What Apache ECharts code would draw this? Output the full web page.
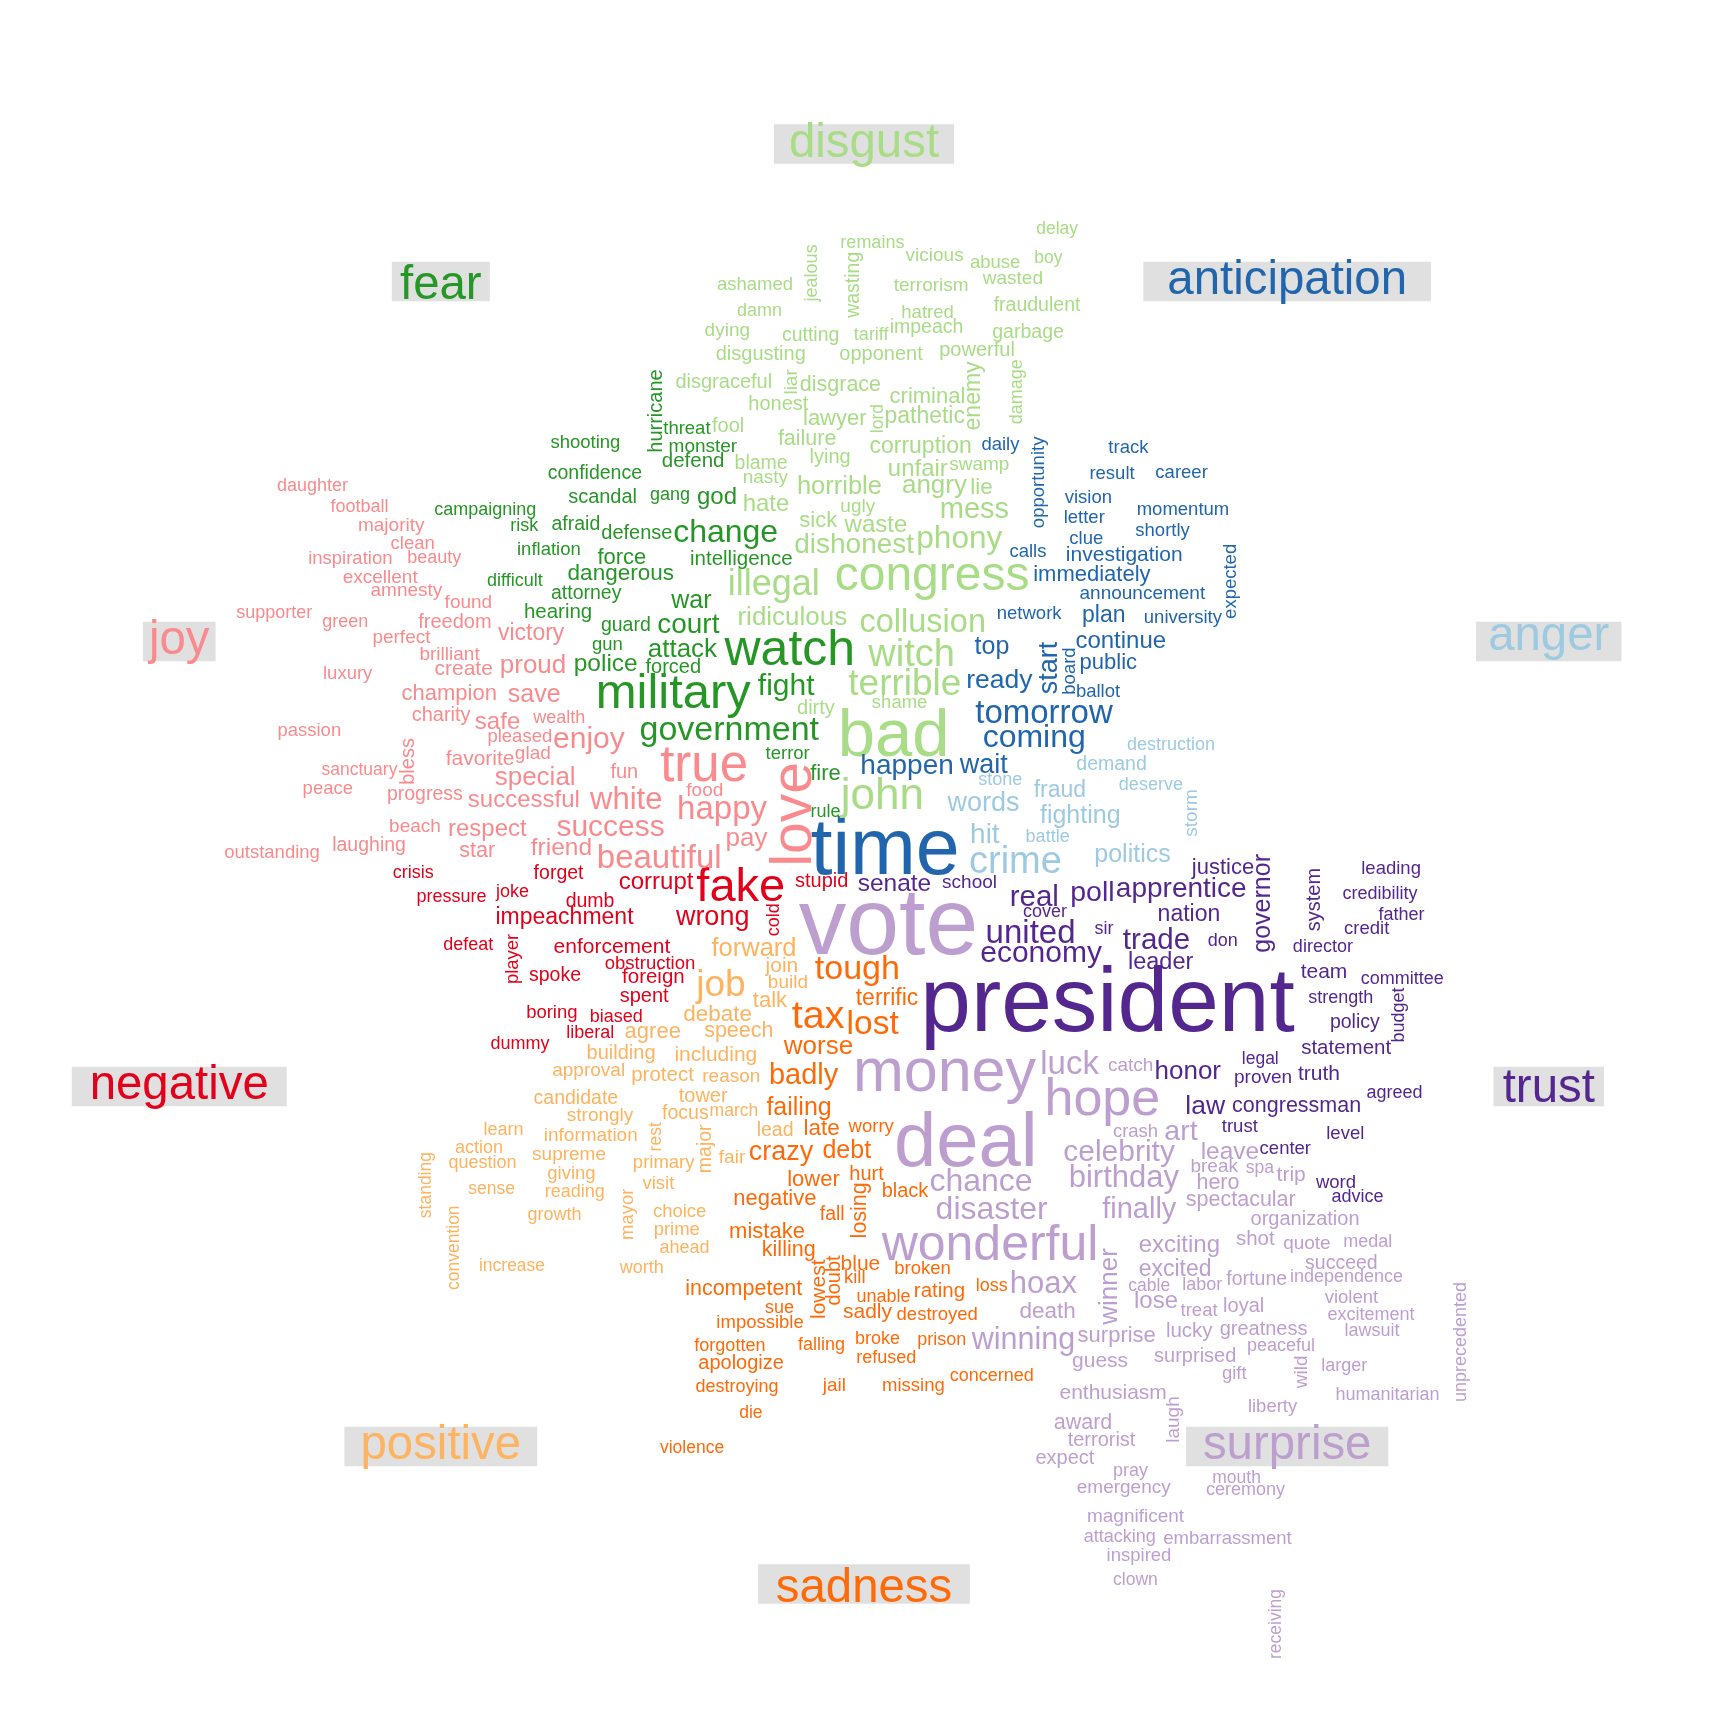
<!DOCTYPE html>
<html>
<head>
<meta charset="utf-8">
<script src="https://cdn.jsdelivr.net/npm/echarts@6/dist/echarts.min.js"></script>
<style>html,body{margin:0;padding:0;background:#fff}#chart{width:1728px;height:1728px}</style>
</head>
<body>
<div id="chart"></div>
<script>
// ---------------- data ----------------
const groupNames = ['anger','anticipation','disgust','fear','joy','negative','positive','sadness','surprise','trust'];

const angerWords = ['crime','hit','words','fighting','politics','fraud','demand','storm','destruction','deserve','battle','stone'];
const angerValues = [38,28,27,25,25,23,19.5,19,18,18,18,18];

const anticipationWords = ['time','tomorrow','coming','happen','start','wait','ready','top','continue','plan','public','immediately','investigation','announcement','letter','network','vision','momentum','shortly','opportunity','expected','daily','university','ballot','career','clue','board','track','result','calls'];
const anticipationValues = [79,33,32,28,27,27,26.5,25,24,23,22,22,21,19,18.5,18.5,18.5,18.5,18.5,18.5,18.5,18.5,18.5,18.5,18.5,18.5,18.5,18.5,18.5,18.5];

const disgustWords = ['bad','congress','john','witch','terrible','illegal','collusion','phony','mess','dishonest','ridiculous','angry','horrible','unfair','hate','waste','enemy','pathetic','corruption','lie','sick','criminal','lawyer','failure','disgrace','opponent','dirty','powerful','disgraceful','honest','disgusting','lying','fool','blame','impeach','fraudulent','garbage','cutting','wasting','wasted','swamp','dying','ugly','liar','vicious','terrorism','nasty','shame','abuse','ashamed','hatred','remains','jealous','damn','tariff','damage','delay','boy','lord'];
const disgustValues = [67,48,44,38,37,36,32.5,31.5,29,28,26,26,25.5,24,24,24,23,23,23,22.5,22,22,22,21.5,21.5,20,20,20,20,20,20,20,20,19.5,19.5,19.5,19.5,19.5,19.5,19,19,19,19,19,19,19,19,18.5,18.5,18.5,18.5,18,18,18,18,18,17.5,17.5,17.5];

const fearWords = ['watch','military','government','change','fight','court','attack','war','police','god','dangerous','fire','force','hearing','defend','intelligence','forced','defense','scandal','hurricane','confidence','afraid','guard','attorney','monster','terror','shooting','threat','inflation','gun','risk','difficult','gang','rule','campaigning'];
const fearValues = [50,49,34,32,30,28,26,25,24.5,24,22.5,22,22,20.5,20.5,20.5,20,20,20,20,19.5,19.5,19.5,19.5,19,18.5,18.5,18.5,18.5,18.5,18,18,18,18,18];

const joyWords = ['love','true','happy','beautiful','white','success','enjoy','special','proud','pay','save','friend','respect','successful','safe','victory','champion','star','favorite','create','freedom','charity','fun','bless','progress','laughing','glad','found','beach','food','brilliant','perfect','excellent','amnesty','majority','luxury','inspiration','passion','peace','outstanding','clean','pleased','green','football','daughter','supporter','beauty','wealth','sanctuary'];
const joyValues = [57,51,33,33,31,30,30,26,26,26,25,24.5,24,24,24,23,22,21.5,21,21,20,20,20,20,19.5,19.5,19,19,19,19,19,19,19,19,19,18.5,18.5,18.5,18.5,18.5,18.5,18.5,18,18,18,18,18,18,17.5];

const negativeWords = ['fake','wrong','corrupt','impeachment','enforcement','foreign','stupid','spent','forget','dumb','spoke','boring','obstruction','player','liberal','biased','pressure','dummy','joke','defeat','crisis','cold'];
const negativeValues = [47,27,24,23,21,20.5,20,20,19.5,19.5,19.5,18.5,18.5,18.5,18,18,18,18,18,18,18,18];

const positiveWords = ['job','forward','debate','agree','talk','speech','including','join','protect','building','tower','focus','lead','major','candidate','reason','build','approval','fair','strongly','supreme','information','mayor','choice','primary','prime','visit','giving','action','learn','ahead','growth','reading','question','worth','sense','standing','march','convention','increase','rest'];
const positiveValues = [37,25.5,22.5,22,22,21.5,21,21,20.5,20,20,19.5,19.5,19.5,19.5,19,19,19,19,19,19,19,18.5,18.5,18.5,18.5,18.5,18.5,18,18,18,18,18,18,18,17.5,17.5,17.5,17.5,17.5,17.5];

const sadnessWords = ['tax','tough','lost','badly','crazy','worse','debt','failing','terrific','late','mistake','negative','lower','losing','killing','incompetent','lowest','blue','rating','sadly','doubt','hurt','apologize','black','fall','broken','jail','destroyed','worry','impossible','missing','kill','loss','falling','sue','forgotten','broke','concerned','refused','destroying','unable','prison','die','violence'];
const sadnessValues = [39.5,34,33.5,29,27,26,25,25,23,22.5,22,22,22,21.5,21.5,21.5,21,21,20.5,21,20,20,20,20,19.5,18.5,19,18.5,18.5,18.5,18.5,18.5,18,18,18,18,18,18,18,18,18,18,17.5,17.5];

const surpriseWords = ['vote','deal','money','hope','wonderful','luck','disaster','chance','birthday','hoax','winning','celebrity','finally','art','winner','leave','lose','exciting','excited','death','surprise','spectacular','hero','award','enthusiasm','guess','trip','lucky','shot','terrorist','surprised','organization','greatness','loyal','expect','fortune','succeed','quote','magnificent','emergency','catch','break','wild','laugh','gift','liberty','violent','crash','inspired','treat','embarrassment','labor','pray','peaceful','lawsuit','ceremony','medal','excitement','attacking','larger','humanitarian','independence','unprecedented','cable','mouth','clown','spa','receiving'];
const surpriseValues = [95,76,61,52,50,33,32,32,31,31,30.5,30,29,28.5,26,24.5,24,24,23,22.5,22,21.5,21.5,21.5,21,21,21,20.5,20.5,20,20,20,20,20,20,19.5,19.5,19,19,19,19,19,19,19,18.5,18.5,18.5,18.5,18.5,18.5,18.5,18,18,18,18,18,18,18,18,18,18,18,18,17.5,17.5,17.5,17.5,17.5];

const trustWords = ['president','united','economy','real','trade','poll','apprentice','law','honor','governor','senate','leader','nation','justice','congressman','truth','team','statement','system','policy','proven','school','credit','level','leading','word','trust','center','agreed','committee','advice','sir','father','cover','budget','don','strength','director','credibility','legal'];
const trustValues = [91,33,30,29.5,29.5,28.5,28,26.5,26,25,24.5,23.5,23,22,21.5,21,21,20.5,20,19.5,19,19,18.5,18.5,18.5,18.5,18.5,18.5,18,18,18,18,18,18,18,18,18,18,18,17.5];

const rotatedWords = ['love','enemy','hurricane','liar','wasting','jealous','lord','damage','opportunity','expected','board','start','storm','bless','cold','lowest','rest','major','mayor','convention','standing','losing','doubt','governor','system','budget','winner','wild','unprecedented','laugh','receiving','player'];

// ---------------- styles ----------------
const groupColors = ['#9ecae1','#2166ac','#a9dc86','#269626','#f98b8e','#e2001a','#fdb35f','#ff6a08','#bd9fcf','#54278f'];
const titleBg = '#e0e0e0';
const FONT = '"Liberation Sans", Arial, Helvetica, sans-serif';
const TITLE_SIZE = 47.4;
const MAX_FONT = 95;
const PLOT = 1600; // px per data unit

const groupWords = [angerWords,anticipationWords,disgustWords,fearWords,joyWords,negativeWords,positiveWords,sadnessWords,surpriseWords,trustWords];
const groupValues = [angerValues,anticipationValues,disgustValues,fearValues,joyValues,negativeValues,positiveValues,sadnessValues,surpriseValues,trustValues];

// ---------------- measuring ----------------
const cv = document.createElement('canvas');
const ctx = cv.getContext('2d');
function measure(word, size) {
  ctx.font = size + 'px ' + FONT;
  ctx.textBaseline = 'alphabetic';
  const w = ctx.measureText(word).width;
  const mh = ctx.measureText('M').actualBoundingBoxAscent;
  ctx.textBaseline = 'middle';
  const m = ctx.measureText(word);
  const dy = (m.actualBoundingBoxAscent - m.actualBoundingBoxDescent) / 2;
  return { w: w, h: mh, dy: dy };
}

// ---------------- comparison-cloud layout ----------------
const nG = groupNames.length;
const thetaBins = [];
for (let i = 0; i <= nG; i++) thetaBins.push(i * 2 * Math.PI / nG);
const boxes = [];
const titles = [];
for (let i = 0; i < nG; i++) {
  const th = (thetaBins[i] + thetaBins[i + 1]) / 2;
  const m = measure(groupNames[i], TITLE_SIZE);
  const wid = m.w * 1.2 / PLOT, ht = m.h * 1.2 / PLOT;
  const x1 = 0.5 + 0.45 * Math.cos(th), y1 = 0.5 + 0.45 * Math.sin(th);
  boxes.push([x1 - wid / 2, y1 - ht / 2, wid, ht]);
  titles.push({ name: groupNames[i], x: x1, y: y1, wid: wid, ht: ht, dy: m.dy, color: groupColors[i] });
}
function overlap(x, y, w, h) {
  for (let k = 0; k < boxes.length; k++) {
    const b = boxes[k];
    let o = (x < b[0]) ? (x + w > b[0]) : (b[0] + b[2] > x);
    if (!o) continue;
    o = (y < b[1]) ? (y + h > b[1]) : (b[1] + b[3] > y);
    if (o) return true;
  }
  return false;
}
const items = [];
groupWords.forEach((ws, g) => ws.forEach((w, j) => items.push({ word: w, v: groupValues[g][j], g: g })));
items.sort((a, b) => b.v - a.v);
const vmax = items[0].v;
const thetaStep = 0.1, rStep = 0.05;
const placed = [];
items.forEach((it, k) => {
  const size = MAX_FONT * it.v / vmax;
  const m = measure(it.word, size);
  const rot = rotatedWords.indexOf(it.word) >= 0;
  let wid = m.w / PLOT, ht = m.h / PLOT;
  if (/[gjpqy]/.test(it.word)) ht *= 1.2;
  if (rot) { const t = ht; ht = wid; wid = t; }
  let r = 0, theta = (k * 2.399963) % (2 * Math.PI), x1 = 0.5, y1 = 0.5;
  while (true) {
    const inRegion = theta > thetaBins[it.g] && theta < thetaBins[it.g + 1];
    if (inRegion && x1 - wid / 2 > 0 && y1 - ht / 2 > 0 && x1 + wid / 2 < 1 && y1 + ht / 2 < 1 &&
        !overlap(x1 - wid / 2, y1 - ht / 2, wid, ht)) {
      boxes.push([x1 - wid / 2, y1 - ht / 2, wid, ht]);
      placed.push({ word: it.word, x: x1, y: y1, size: size, rot: rot, dy: m.dy, color: groupColors[it.g] });
      break;
    }
    if (r > Math.SQRT1_2) break;
    theta += thetaStep;
    if (theta > 2 * Math.PI) theta -= 2 * Math.PI;
    r += rStep * thetaStep / (2 * Math.PI);
    x1 = 0.5 + r * Math.cos(theta);
    y1 = 0.5 + r * Math.sin(theta);
  }
});

// ---------------- chart ----------------
const chart = echarts.init(document.getElementById('chart'), null, { renderer: 'canvas' });
chart.setOption({
  animation: false,
  backgroundColor: '#ffffff',
  grid: { left: 64, top: 64, width: PLOT, height: PLOT },
  xAxis: { type: 'value', min: 0, max: 1, show: false },
  yAxis: { type: 'value', min: 0, max: 1, show: false },
  series: [
    {
      type: 'custom',
      data: titles.map(t => [t.x, t.y]),
      renderItem: function (params, api) {
        const t = titles[params.dataIndex];
        const c = api.coord([api.value(0), api.value(1)]);
        const s = api.size([t.wid, t.ht]);
        return {
          type: 'group',
          children: [
            { type: 'rect', shape: { x: c[0] - s[0] / 2, y: c[1] - s[1] / 2, width: s[0], height: s[1] }, style: { fill: titleBg } },
            { type: 'text', x: c[0], y: c[1], style: { text: t.name, x: 0, y: t.dy, fill: t.color, fontSize: TITLE_SIZE, fontFamily: FONT, align: 'center', verticalAlign: 'middle' } }
          ]
        };
      }
    },
    {
      type: 'custom',
      data: placed.map(p => [p.x, p.y]),
      renderItem: function (params, api) {
        const p = placed[params.dataIndex];
        const c = api.coord([api.value(0), api.value(1)]);
        return {
          type: 'text', x: c[0], y: c[1], rotation: p.rot ? Math.PI / 2 : 0,
          style: { text: p.word, x: 0, y: p.dy, fill: p.color, fontSize: p.size, fontFamily: FONT, align: 'center', verticalAlign: 'middle' }
        };
      }
    }
  ]
});
</script>
</body>
</html>
